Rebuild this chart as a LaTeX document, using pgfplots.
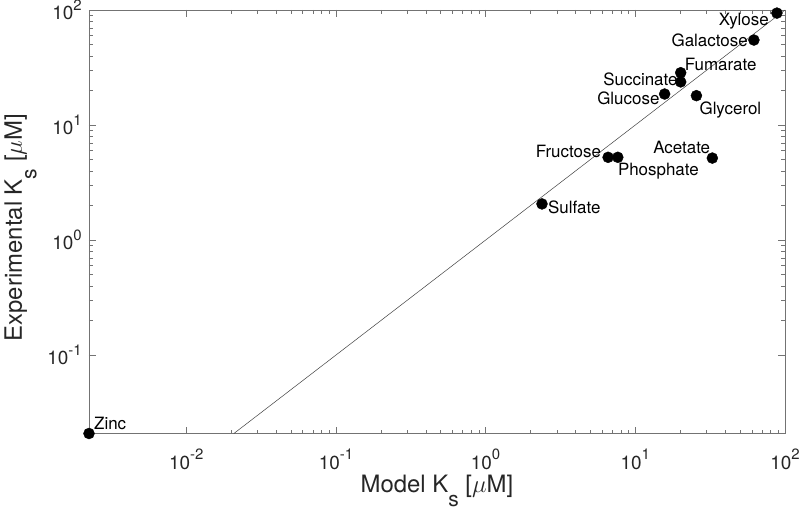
\documentclass[border=0pt]{standalone}
\usepackage{pgfplots}
\pgfplotsset{compat=1.18}
\usepackage{fontspec}
\setmainfont{TeX Gyre Heros}
\newcommand\pow[1]{10\raisebox{0.5em}{\fontsize{15}{15}\selectfont #1}}
\newcommand\subs{\raisebox{-0.6em}{\fontsize{21}{21}\selectfont s}}
\begin{document}
\begin{tikzpicture}
\begin{axis}[
 xmode=log, ymode=log,
 scale only axis, width=696bp, height=423.5bp,
 xmin=0.00224, xmax=100, ymin=0.0208, ymax=100,
 axis line style={black!55, line width=0.6bp},
 every tick/.style={black!55, line width=0.5bp},
 major tick length=7bp, minor tick length=4bp,
 tick align=inside,
 xtick={0.01,0.1,1,10,100},
 xticklabels={\pow{-2},\pow{-1},\pow{0},\pow{1},\pow{2}},
 ytick={0.1,1,10,100},
 yticklabels={\pow{-1},\pow{0},\pow{1},\pow{2}},
 ticklabel style={font=\fontsize{19}{19}\selectfont, text=black!85},
 xticklabel style={anchor=base, yshift=-35.5bp, inner sep=0pt},
 yticklabel style={xshift=-3.7bp},
 xlabel={Model K\subs{} [$\mu$M]},
 ylabel={Experimental K\subs{} [$\mu$M]},
 label style={font=\fontsize{24}{24}\selectfont, text=black!85, inner sep=0pt},
 xlabel style={at={(axis description cs:0.5,-0.139)}, anchor=base},
 ylabel style={at={(axis description cs:-0.0963,0.486)}, anchor=base},
 clip=false,
]
\addplot[black!75, line width=0.5bp] coordinates {(0.0208,0.0208) (100,100)};
\addplot[only marks, mark=*, mark size=5.5bp, black] coordinates {
 (88.3,94) (62,54.8) (20.1,28.5) (20.1,23.7) (15.7,18.6) (25.6,18.0)
 (6.58,5.24) (7.64,5.24) (32.7,5.16) (2.38,2.06) (0.00224,0.0208)
};
\begin{scope}[every node/.style={font=\fontsize{17}{17}\selectfont, inner sep=0pt, text=black}]
\node[anchor=base east, xshift=-8bp, yshift=-12bp] at (axis cs:88.3,94) {Xylose};
\node[anchor=base east, xshift=-6bp, yshift=-6bp] at (axis cs:62,54.8) {Galactose};
\node[anchor=base west, xshift=4bp, yshift=2bp] at (axis cs:20.1,28.5) {Fumarate};
\node[anchor=base east, xshift=-3bp, yshift=-4bp] at (axis cs:20.1,23.7) {Succinate};
\node[anchor=base east, xshift=-5bp, yshift=-10bp] at (axis cs:15.7,18.6) {Glucose};
\node[anchor=base west, xshift=3bp, yshift=-18.6bp] at (axis cs:25.6,18.0) {Glycerol};
\node[anchor=base east, xshift=-7bp, yshift=0bp] at (axis cs:6.58,5.24) {Fructose};
\node[anchor=base west, xshift=0bp, yshift=-18.4bp] at (axis cs:7.64,5.24) {Phosphate};
\node[anchor=base east, xshift=-2bp, yshift=5bp] at (axis cs:32.7,5.16) {Acetate};
\node[anchor=base west, xshift=6bp, yshift=-10bp] at (axis cs:2.38,2.06) {Sulfate};
\node[anchor=base west, xshift=5bp, yshift=4.5bp] at (axis cs:0.00224,0.0208) {Zinc};
\end{scope}
\end{axis}
\pgfresetboundingbox
\path ([shift={(-89bp,-80.5bp)}]current axis.south west) rectangle ([shift={(14bp,10bp)}]current axis.north east);
\end{tikzpicture}
\end{document}
